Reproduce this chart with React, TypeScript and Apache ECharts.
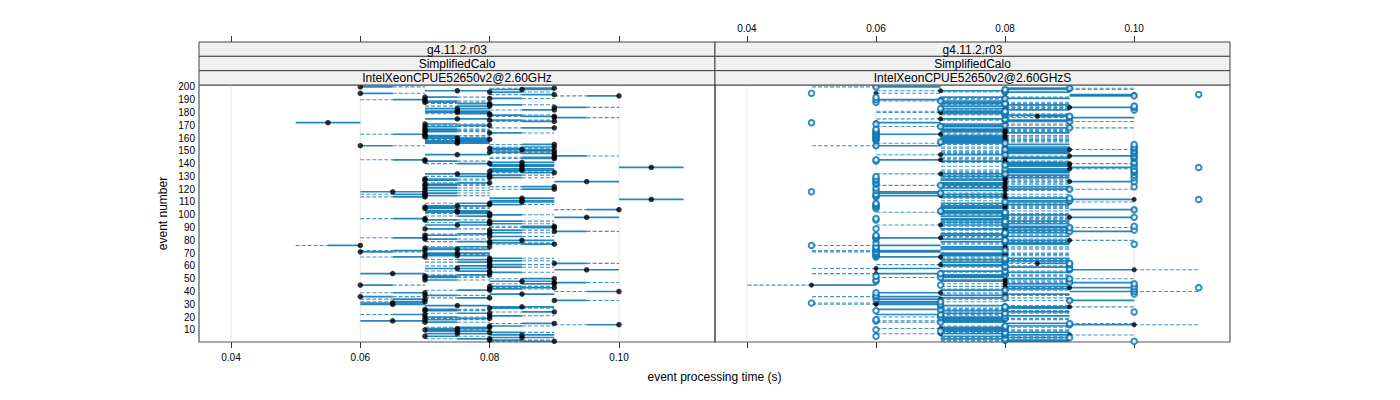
import React, { useEffect, useRef } from "react";
import * as echarts from "echarts";

// ---- tick labels / texts ----
const xTicks = [0.04, 0.06, 0.08, 0.1];
const yTicks = [10, 20, 30, 40, 50, 60, 70, 80, 90, 100, 110, 120, 130, 140, 150, 160, 170, 180, 190, 200];
const stripTitles = ["g4.11.2.r03", "SimplifiedCalo"];
const panelNames = ["IntelXeonCPUE52650v2@2.60GHz", "IntelXeonCPUE52650v2@2.60GHzS"];
const xTitle = "event processing time (s)";
const yTitle = "event number";

// ---- left panel (events 1..200), times in ms ----
const leftDot = [
  90, 80, 80, 85, 70, 85, 75, 80, 75, 70,
  75, 80, 80, 100, 90, 70, 65, 70, 80, 70,
  80, 70, 80, 90, 70, 70, 80, 85, 75, 65,
  65, 70, 90, 70, 80, 60, 70, 85, 70, 100,
  80, 80, 90, 80, 60, 90, 90, 85, 70, 90,
  70, 70, 80, 65, 80, 80, 95, 75, 80, 80,
  80, 90, 80, 80, 80, 80, 70, 75, 70, 75,
  60, 70, 75, 70, 80, 60, 90, 80, 80, 85,
  70, 70, 80, 70, 80, 80, 90, 80, 70, 90,
  90, 75, 80, 80, 80, 70, 70, 95, 80, 80,
  80, 75, 75, 100, 70, 70, 75, 80, 80, 85,
  85, 105, 85, 70, 70, 70, 70, 65, 70, 90,
  70, 90, 70, 70, 80, 95, 70, 70, 80, 80,
  80, 75, 90, 80, 85, 85, 105, 85, 85, 80,
  85, 70, 70, 90, 90, 90, 75, 90, 80, 90,
  85, 80, 90, 60, 90, 75, 75, 75, 80, 75,
  70, 70, 70, 80, 70, 70, 70, 90, 70, 80,
  70, 55, 90, 80, 75, 90, 90, 80, 80, 75,
  75, 90, 75, 90, 80, 80, 80, 70, 70, 70,
  80, 70, 100, 90, 60, 80, 75, 85, 90, 60,
];
const leftLo = [
  80, 80, 70, 80, 70, 80, 70, 80, 70, 70,
  70, 70, 80, 90, 80, 70, 60, 70, 70, 70,
  80, 60, 70, 80, 70, 70, 80, 80, 70, 60,
  60, 60, 90, 60, 70, 60, 70, 80, 60, 90,
  70, 80, 80, 80, 60, 80, 90, 80, 70, 80,
  70, 70, 70, 60, 80, 70, 90, 70, 80, 70,
  80, 90, 70, 80, 70, 80, 60, 70, 70, 70,
  60, 60, 70, 70, 70, 50, 80, 80, 70, 80,
  70, 60, 80, 70, 70, 80, 90, 80, 70, 80,
  80, 70, 80, 70, 80, 70, 60, 90, 70, 80,
  70, 70, 70, 90, 70, 70, 70, 80, 70, 80,
  80, 100, 80, 60, 70, 60, 70, 60, 70, 80,
  70, 80, 70, 70, 70, 90, 70, 70, 80, 70,
  80, 70, 80, 80, 80, 80, 100, 80, 80, 70,
  80, 70, 60, 80, 80, 90, 70, 80, 80, 80,
  80, 80, 80, 60, 80, 70, 70, 70, 70, 70,
  70, 70, 60, 80, 70, 70, 70, 80, 70, 70,
  70, 50, 80, 80, 70, 90, 80, 80, 70, 70,
  70, 80, 70, 90, 70, 80, 70, 70, 70, 60,
  80, 70, 90, 80, 60, 80, 70, 80, 80, 60,
];
const leftHi = [
  90, 90, 80, 90, 80, 90, 80, 90, 80, 80,
  80, 80, 90, 100, 90, 80, 70, 80, 80, 80,
  90, 70, 80, 90, 80, 80, 90, 90, 80, 70,
  70, 70, 100, 70, 80, 70, 80, 90, 70, 100,
  80, 90, 90, 90, 70, 90, 100, 90, 80, 90,
  80, 80, 80, 70, 90, 80, 100, 80, 90, 80,
  90, 100, 80, 90, 80, 90, 70, 80, 80, 80,
  70, 70, 80, 80, 80, 60, 90, 90, 80, 90,
  80, 70, 90, 80, 80, 90, 100, 90, 80, 90,
  90, 80, 90, 80, 90, 80, 70, 100, 80, 90,
  80, 80, 80, 100, 80, 80, 80, 90, 80, 90,
  90, 110, 90, 70, 80, 70, 80, 70, 80, 90,
  80, 90, 80, 80, 80, 100, 80, 80, 90, 80,
  90, 80, 90, 90, 90, 90, 110, 90, 90, 80,
  90, 80, 70, 90, 90, 100, 80, 90, 90, 90,
  90, 90, 90, 70, 90, 80, 80, 80, 80, 80,
  80, 80, 70, 90, 80, 80, 80, 90, 80, 80,
  80, 60, 90, 90, 80, 100, 90, 90, 80, 80,
  80, 90, 80, 100, 80, 90, 80, 80, 80, 70,
  90, 80, 100, 90, 70, 90, 80, 90, 90, 70,
];

// ---- right panel (events 1..200), times in ms ----
const rightBlack = [
  80, 80, 80, 80, 80, 90, 70, 80, 80, 80,
  70, 80, 80, 100, 90, 70, 70, 80, 80, 70,
  80, 70, 80, 80, 80, 70, 80, 90, 80, 60,
  60, 70, 90, 70, 80, 60, 80, 80, 70, 100,
  80, 80, 90, 80, 50, 80, 90, 80, 80, 90,
  70, 80, 80, 60, 80, 80, 100, 60, 80, 80,
  70, 85, 80, 80, 80, 80, 70, 80, 80, 80,
  60, 60, 80, 80, 80, 60, 80, 80, 80, 90,
  80, 70, 80, 80, 80, 80, 90, 80, 80, 90,
  80, 70, 80, 80, 80, 80, 80, 90, 80, 80,
  80, 70, 80, 100, 80, 80, 80, 80, 80, 90,
  80, 100, 80, 80, 70, 80, 70, 60, 80, 90,
  80, 80, 70, 80, 80, 90, 80, 80, 80, 80,
  80, 70, 80, 80, 80, 90, 100, 80, 90, 90,
  80, 80, 70, 80, 80, 90, 70, 80, 80, 80,
  90, 80, 80, 60, 80, 70, 80, 80, 80, 80,
  80, 80, 70, 80, 80, 80, 80, 90, 70, 80,
  80, 60, 90, 80, 70, 90, 85, 80, 80, 70,
  70, 80, 80, 90, 80, 80, 80, 80, 70, 70,
  80, 80, 100, 100, 60, 80, 70, 90, 90, 60,
];
const rightOpen = [
  100, 80, 80, 90, 60, 80, 80, 80, 70, 60,
  80, 80, 80, 90, 90, 70, 60, 60, 80, 70,
  80, 70, 80, 100, 60, 70, 80, 80, 70, 70,
  50, 70, 90, 60, 80, 60, 60, 100, 60, 100,
  80, 100, 110, 100, 70, 100, 90, 60, 60, 90,
  70, 60, 80, 70, 80, 80, 90, 90, 80, 80,
  90, 90, 80, 80, 80, 80, 60, 60, 60, 60,
  60, 80, 60, 60, 60, 50, 100, 60, 80, 80,
  60, 60, 60, 60, 80, 80, 90, 100, 60, 90,
  100, 80, 80, 80, 80, 60, 60, 100, 80, 80,
  80, 80, 70, 100, 60, 60, 60, 60, 60, 80,
  90, 110, 90, 60, 60, 60, 70, 50, 60, 90,
  60, 100, 70, 60, 60, 100, 60, 60, 100, 60,
  100, 80, 100, 100, 100, 80, 110, 100, 80, 100,
  100, 60, 60, 100, 100, 100, 80, 100, 100, 100,
  80, 100, 100, 60, 100, 80, 70, 60, 60, 60,
  60, 60, 60, 60, 60, 60, 60, 90, 70, 80,
  60, 50, 90, 80, 80, 90, 90, 80, 80, 80,
  80, 100, 70, 100, 100, 80, 80, 60, 70, 60,
  80, 60, 100, 110, 50, 80, 80, 80, 90, 60,
];
const rightSolidTo = [
  90, 90, 70, 90, 70, 80, 80, 90, 70, 70,
  80, 70, 90, 90, 80, 80, 80, 70, 70, 80,
  90, 60, 70, 90, 70, 60, 90, 80, 70, 70,
  70, 60, 100, 60, 70, 70, 70, 90, 60, 90,
  70, 90, 100, 90, 60, 90, 100, 70, 70, 80,
  80, 70, 70, 70, 90, 70, 90, 70, 90, 70,
  80, 90, 70, 90, 70, 90, 60, 70, 70, 70,
  70, 70, 70, 70, 70, 70, 90, 90, 70, 80,
  70, 60, 90, 70, 70, 90, 100, 90, 70, 80,
  90, 80, 90, 70, 90, 70, 70, 100, 70, 90,
  70, 80, 70, 90, 70, 70, 70, 90, 70, 80,
  90, 90, 90, 70, 60, 70, 60, 70, 70, 80,
  70, 90, 80, 70, 70, 100, 70, 70, 90, 70,
  90, 80, 90, 90, 90, 80, 90, 90, 80, 80,
  90, 70, 60, 90, 90, 100, 80, 90, 90, 90,
  80, 90, 90, 70, 90, 80, 70, 70, 70, 70,
  70, 70, 60, 90, 70, 70, 70, 80, 80, 70,
  70, 70, 80, 90, 80, 100, 90, 90, 70, 80,
  80, 90, 70, 100, 70, 90, 70, 70, 80, 60,
  90, 70, 90, 90, 60, 90, 80, 80, 80, 70,
];
const rightDashTo = [
  70, 70, 90, 70, 90, 100, 60, 70, 90, 90,
  60, 90, 70, 110, 100, 60, 60, 90, 90, 60,
  70, 80, 90, 70, 90, 80, 70, 100, 90, 50,
  50, 80, 80, 80, 90, 50, 90, 70, 80, 110,
  90, 70, 80, 70, 40, 70, 80, 90, 90, 100,
  60, 90, 90, 50, 70, 90, 110, 50, 70, 90,
  60, 80, 90, 70, 90, 70, 80, 90, 90, 90,
  50, 50, 90, 90, 90, 50, 70, 70, 90, 100,
  90, 80, 70, 90, 90, 70, 80, 70, 90, 100,
  70, 60, 70, 90, 70, 90, 90, 80, 90, 70,
  90, 60, 90, 100, 90, 90, 90, 70, 90, 100,
  70, 100, 70, 90, 80, 90, 80, 60, 90, 100,
  90, 70, 60, 90, 90, 80, 90, 90, 70, 90,
  70, 60, 70, 70, 70, 100, 100, 70, 90, 100,
  70, 90, 80, 70, 70, 80, 60, 70, 70, 70,
  100, 70, 70, 50, 70, 60, 90, 90, 90, 90,
  90, 90, 80, 70, 90, 90, 90, 100, 60, 90,
  90, 60, 100, 70, 60, 80, 80, 70, 90, 60,
  60, 70, 90, 80, 90, 70, 90, 90, 60, 80,
  70, 90, 100, 100, 70, 70, 60, 100, 100, 50,
];

// ---- layout / style constants ----
const X_MIN = 0.03505;
const X_MAX = 0.11485;
const Y_MIN = 0.5;
const Y_MAX = 201.5;
const GRID_TOP = 85;
const GRID_H = 257;
const PANELS = [
  { left: 199, width: 516 },
  { left: 715, width: 515 },
];
const STRIP_TOP = 42;
const STRIP_H = (GRID_TOP - STRIP_TOP) / 3;
const HALF_BIN = 5; // ms: solid part of the left-panel segments around the point
const FONT = "'Liberation Sans', Arial, Helvetica, sans-serif";
const SOLID = "rgba(0,114,178,0.85)";
const DASH = "rgba(0,114,178,0.75)";
const OPEN = "#0072B2";

const toS = (ms: number) => ms / 1000;

export default function App() {
  const ref = useRef<HTMLDivElement>(null);

  useEffect(() => {
    if (!ref.current) return;
    const chart = echarts.init(ref.current, undefined, { renderer: "svg" });

    const leftData = leftDot.map((d, i) => [i + 1, toS(d), toS(leftLo[i]), toS(leftHi[i])]);
    const leftPts = leftDot.map((d, i) => [toS(d), i + 1]);
    const rightData = rightBlack.map((b, i) => [i + 1, toS(b), toS(rightSolidTo[i]), toS(rightDashTo[i])]);
    const rightBlackPts = rightBlack.map((b, i) => [toS(b), i + 1]);
    const rightOpenPts = rightOpen.map((o, i) => [toS(o), i + 1]);
    const half = toS(HALF_BIN);

    const segLine = (api: any, ev: number, a: number, b: number, dashed: boolean) => {
      const p1 = api.coord([a, ev]);
      const p2 = api.coord([b, ev]);
      return {
        type: "line",
        shape: { x1: p1[0], y1: p1[1], x2: p2[0], y2: p2[1] },
        style: dashed
          ? { stroke: DASH, lineWidth: 1.1, lineDash: [4, 2] }
          : { stroke: SOLID, lineWidth: 1.7 },
      };
    };

    const leftRender = (_p: any, api: any) => {
      const ev = api.value(0);
      const d = api.value(1);
      const lo = api.value(2);
      const hi = api.value(3);
      const sLo = Math.max(lo, d - half);
      const sHi = Math.min(hi, d + half);
      const children: any[] = [];
      if (sLo > lo + 1e-9) children.push(segLine(api, ev, lo, sLo, true));
      if (hi > sHi + 1e-9) children.push(segLine(api, ev, sHi, hi, true));
      if (sHi > sLo + 1e-9) children.push(segLine(api, ev, sLo, sHi, false));
      return { type: "group", children };
    };

    const rightRender = (_p: any, api: any) => {
      const ev = api.value(0);
      const b = api.value(1);
      const s = api.value(2);
      const dd = api.value(3);
      const children: any[] = [];
      if (Math.abs(dd - b) > 1e-9) children.push(segLine(api, ev, b, dd, true));
      if (Math.abs(s - b) > 1e-9) children.push(segLine(api, ev, b, s, false));
      return { type: "group", children };
    };

    const gridRender = (params: any, api: any) => {
      const cs = params.coordSys;
      const x = api.coord([api.value(0), Y_MIN])[0];
      return {
        type: "line",
        shape: { x1: x, y1: cs.y, x2: x, y2: cs.y + cs.height },
        style: { stroke: "#e6e6e6", lineWidth: 1 },
      };
    };

    const xAxisBase = (gridIndex: number, position: "top" | "bottom", showLabel: boolean) => ({
      type: "value",
      gridIndex,
      position,
      offset: position === "top" ? GRID_TOP - STRIP_TOP : 0,
      min: X_MIN,
      max: X_MAX,
      axisLine: { show: false },
      splitLine: { show: false },
      axisTick: {
        show: true,
        length: 6,
        customValues: xTicks,
        lineStyle: { color: "#333", width: 1 },
      },
      axisLabel: {
        show: showLabel,
        customValues: xTicks,
        formatter: (v: number) => v.toFixed(2),
        margin: position === "top" ? 9 : 10,
        fontSize: 10,
        color: "#000",
        fontFamily: FONT,
      },
    });

    const yAxisBase = (gridIndex: number, showLabel: boolean) => ({
      type: "value",
      gridIndex,
      min: Y_MIN,
      max: Y_MAX,
      axisLine: { show: false },
      axisTick: { show: false },
      splitLine: { show: false },
      axisLabel: {
        show: showLabel,
        customValues: yTicks,
        margin: 4,
        fontSize: 10,
        color: "#000",
        fontFamily: FONT,
      },
    });

    const graphics: any[] = [];
    PANELS.forEach((p, pi) => {
      const texts = [...stripTitles, panelNames[pi]];
      texts.forEach((t, ri) => {
        graphics.push({
          type: "rect",
          shape: { x: p.left, y: STRIP_TOP + ri * STRIP_H, width: p.width, height: STRIP_H },
          style: { fill: "#f0f0f0", stroke: "#444", lineWidth: 1 },
          z: 10,
        });
        graphics.push({
          type: "text",
          x: p.left + p.width / 2,
          y: STRIP_TOP + ri * STRIP_H + STRIP_H / 2 + 0.5,
          style: {
            text: t,
            fill: "#000",
            font: `12px ${FONT}`,
            textAlign: "center",
            textVerticalAlign: "middle",
          },
          z: 11,
        });
      });
    });
    graphics.push({
      type: "text",
      x: (PANELS[0].left + PANELS[1].left + PANELS[1].width) / 2,
      y: 377,
      style: { text: xTitle, fill: "#000", font: `12px ${FONT}`, textAlign: "center", textVerticalAlign: "middle" },
    });
    graphics.push({
      type: "text",
      x: 163,
      y: GRID_TOP + GRID_H / 2,
      rotation: Math.PI / 2,
      style: { text: yTitle, fill: "#000", font: `12px ${FONT}`, textAlign: "center", textVerticalAlign: "middle" },
    });

    chart.setOption({
      animation: false,
      backgroundColor: "#fff",
      grid: PANELS.map((p) => ({
        left: p.left,
        top: GRID_TOP,
        width: p.width,
        height: GRID_H,
        show: true,
        borderColor: "#555",
        borderWidth: 1.2,
        backgroundColor: "transparent",
      })),
      xAxis: [
        xAxisBase(0, "bottom", true),
        xAxisBase(0, "top", false),
        xAxisBase(1, "bottom", false),
        xAxisBase(1, "top", true),
      ],
      yAxis: [yAxisBase(0, true), yAxisBase(1, false)],
      graphic: graphics,
      series: [
        {
          type: "custom",
          xAxisIndex: 0,
          yAxisIndex: 0,
          data: xTicks.map((v) => [v]),
          renderItem: gridRender,
          silent: true,
          z: 1,
        },
        {
          type: "custom",
          xAxisIndex: 2,
          yAxisIndex: 1,
          data: xTicks.map((v) => [v]),
          renderItem: gridRender,
          silent: true,
          z: 1,
        },
        {
          type: "custom",
          xAxisIndex: 0,
          yAxisIndex: 0,
          data: leftData,
          renderItem: leftRender,
          clip: true,
          silent: true,
          z: 2,
        },
        {
          type: "scatter",
          xAxisIndex: 0,
          yAxisIndex: 0,
          data: leftPts,
          symbol: "circle",
          symbolSize: 5.5,
          itemStyle: { color: "#000" },
          silent: true,
          z: 3,
        },
        {
          type: "custom",
          xAxisIndex: 2,
          yAxisIndex: 1,
          data: rightData,
          renderItem: rightRender,
          clip: true,
          silent: true,
          z: 2,
        },
        {
          type: "scatter",
          xAxisIndex: 2,
          yAxisIndex: 1,
          data: rightBlackPts,
          symbol: "circle",
          symbolSize: 5,
          itemStyle: { color: "#000" },
          silent: true,
          z: 3,
        },
        {
          type: "scatter",
          xAxisIndex: 2,
          yAxisIndex: 1,
          data: rightOpenPts,
          symbol: "emptyCircle",
          symbolSize: 5.5,
          itemStyle: { color: OPEN, borderColor: OPEN, borderWidth: 1.3 },
          silent: true,
          z: 4,
        },
      ],
    });

    return () => chart.dispose();
  }, []);

  return (
    <div
      ref={ref}
      style={{ position: "absolute", left: 0, top: 0, width: 1400, height: 400, background: "#fff" }}
    />
  );
}
